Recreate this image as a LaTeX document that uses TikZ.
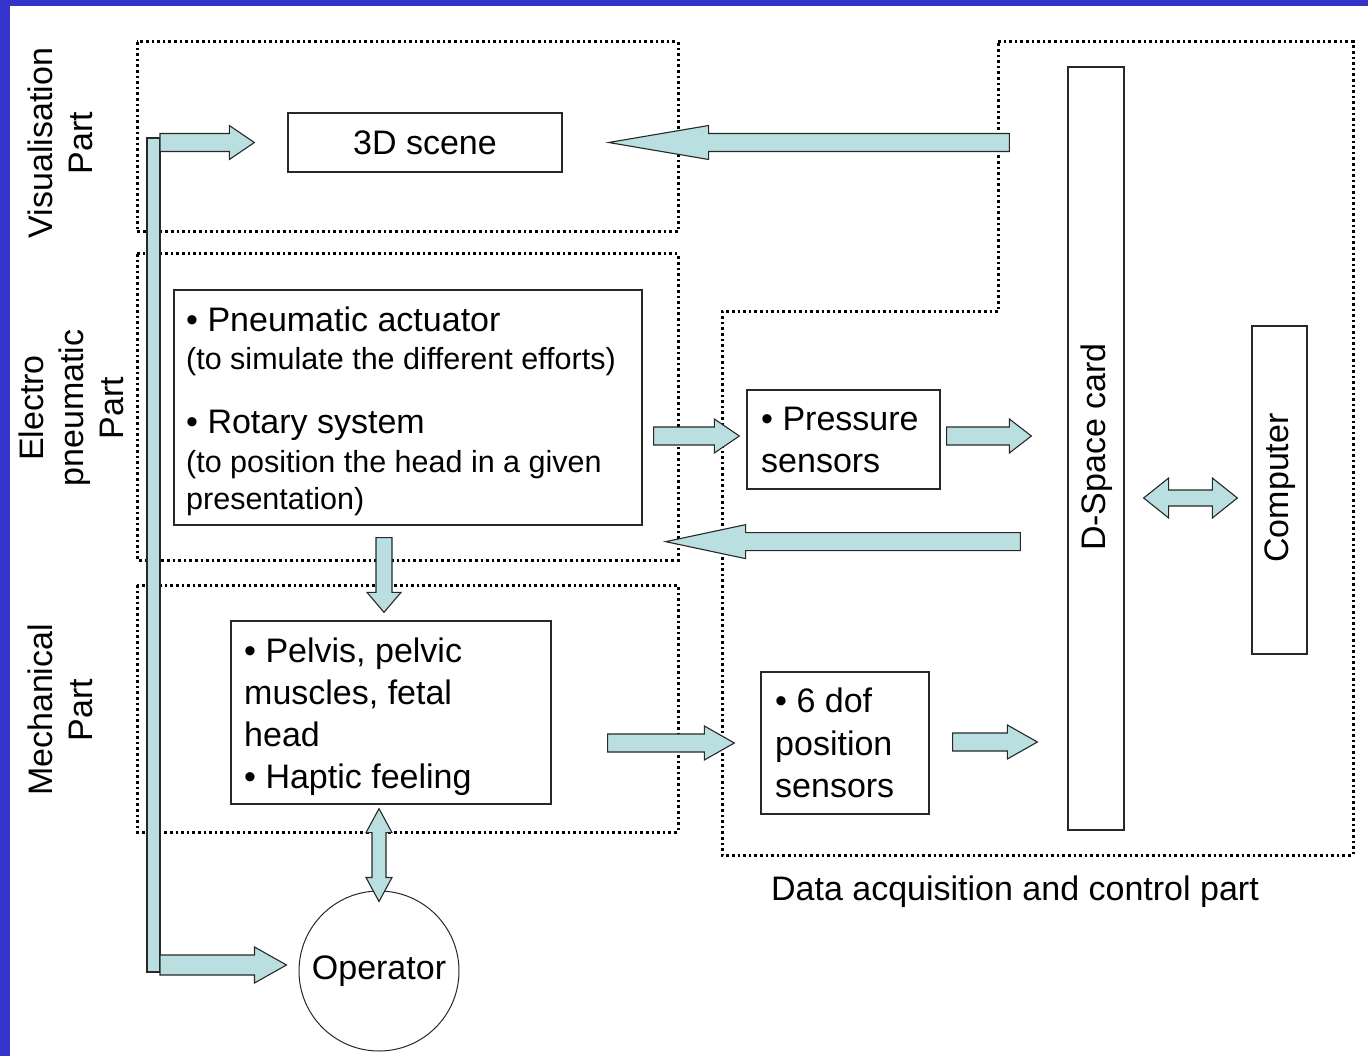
\documentclass[tikz,border=0pt]{standalone}
\usepackage{fontspec}
\setmainfont{Liberation Sans}
\usetikzlibrary{calc}
\definecolor{bordercol}{RGB}{52,52,204}
\definecolor{arrfill}{RGB}{186,223,224}
\definecolor{linecol}{RGB}{40,40,40}
\newcommand\bigf{\fontsize{34}{40}\selectfont}
\newcommand\smf{\fontsize{30.5}{36}\selectfont}
% single block arrow: #1 tail, #2 tip, #3 shaft half, #4 head half, #5 head length
\newcommand\blarrow[5]{%
  \coordinate (bahh) at ($(#2)!#5!(#1)$);
  \draw[arrowst] ($(#1)!#3!90:(#2)$) -- ($(bahh)!#3!90:(#2)$) -- ($(bahh)!#4!90:(#2)$) -- (#2)
    -- ($(bahh)!#4!-90:(#2)$) -- ($(bahh)!#3!-90:(#2)$) -- ($(#1)!#3!-90:(#2)$) -- cycle;
}
% double block arrow
\newcommand\dblarrow[5]{%
  \coordinate (bahA) at ($(#1)!#5!(#2)$);
  \coordinate (bahB) at ($(#2)!#5!(#1)$);
  \draw[arrowst] (#1) -- ($(bahA)!#4!90:(#2)$) -- ($(bahA)!#3!90:(#2)$) -- ($(bahB)!#3!90:(#2)$)
    -- ($(bahB)!#4!90:(#2)$) -- (#2) -- ($(bahB)!#4!-90:(#2)$) -- ($(bahB)!#3!-90:(#2)$)
    -- ($(bahA)!#3!-90:(#2)$) -- ($(bahA)!#4!-90:(#2)$) -- cycle;
}
\begin{document}
\begin{tikzpicture}[x=1pt,y=-1pt,
  box/.style={draw=linecol, line width=1.3pt, inner sep=0pt, font=\bigf},
  arrowst/.style={draw=linecol, line width=1.1pt, fill=arrfill, line join=miter},
  dotline/.style={draw=black, line width=3pt, dash pattern=on 2.6pt off 3pt},
  txt/.style={inner sep=0pt, anchor=base west},
  lbl/.style={rotate=90, align=center, font=\bigf, inner sep=0pt}]
\useasboundingbox (0,0) rectangle (1368,1056);
\fill[white] (0,0) rectangle (1368,1056);
\fill[bordercol] (0,0) rectangle (10,1056);
\fill[bordercol] (0,0) rectangle (1368,6);

% dotted regions
\draw[dotline] (137,42) rectangle (678,232);
\draw[dotline] (137,254) rectangle (678,560);
\draw[dotline] (137,585) rectangle (678,832);
\draw[dotline] (998,42) -- (1353,42) -- (1353,855) -- (722,855) -- (722,312) -- (998,312) -- cycle;

% side labels
\node[lbl] (lvis) at (60,143) {Visualisation\\Part};
\node[lbl] (lele) at (71,408) {Electro\\pneumatic\\Part};
\node[lbl] (lmec) at (60,710) {Mechanical\\Part};

% boxes
\node[box, minimum width=274pt, minimum height=59pt] (scene) at (425,142.5) {3D scene};
\node[box, fill=white, minimum width=56pt, minimum height=763pt] (dspace) at (1096,448.5) {};
\node[lbl] (dspacet) at (1097,447) {D-Space card};
\node[box, minimum width=55pt, minimum height=328pt] (comp) at (1279.5,490) {};
\node[lbl] (compt) at (1280,488) {Computer};
\node[box, minimum width=468pt, minimum height=235pt] (pneu) at (408,407.5) {};
\node[box, minimum width=193pt, minimum height=99pt] (press) at (843.5,439.5) {};
\node[box, minimum width=320pt, minimum height=183pt] (mech) at (391,712.5) {};
\node[box, minimum width=168pt, minimum height=142pt] (dof) at (845,743) {};
\node[box, circle, line width=1pt, minimum size=160pt] (op) at (379,971) {Operator};

% texts in boxes
\node[txt, font=\bigf] (p1) at (186,332) {• Pneumatic actuator};
\node[txt, font=\smf] (p2) at (186,370) {(to simulate the different efforts)};
\node[txt, font=\bigf] (p3) at (186,433) {• Rotary system};
\node[txt, font=\smf] (p4) at (186,472) {(to position the head in a given};
\node[txt, font=\smf] (p5) at (186,509) {presentation)};
\node[txt, font=\bigf] (s1) at (761,430) {• Pressure};
\node[txt, font=\bigf] (s2) at (761,472) {sensors};
\node[txt, font=\bigf] (m1) at (244,662) {• Pelvis, pelvic};
\node[txt, font=\bigf] (m2) at (244,704) {muscles, fetal};
\node[txt, font=\bigf] (m3) at (244,746) {head};
\node[txt, font=\bigf] (m4) at (244,788) {• Haptic feeling};
\node[txt, font=\bigf] (d1) at (775,712) {• 6 dof};
\node[txt, font=\bigf] (d2) at (775,755) {position};
\node[txt, font=\bigf] (d3) at (775,797) {sensors};
\node[inner sep=0pt, anchor=base, font=\bigf] (dacq) at (1015,900) {Data acquisition and control part};

% connector coordinates
\coordinate (barT) at (160,142.5);
\coordinate (barB) at (160,965);
\coordinate (sceneIn) at ($(scene.west)+(-33,0)$);
\coordinate (opIn) at ($(barB -| op.west)+(-12,0)$);
\coordinate (dsOut1) at ($(dspace.west |- scene.east)+(-58,0)$);
\coordinate (sceneIn2) at ($(scene.east)+(46,0)$);
\coordinate (pnOut) at ($(pneu.east |- press.west)+(11,-3.5)$);
\coordinate (prIn) at ($(press.west)+(-7,-3.5)$);
\coordinate (prOut) at ($(press.east)+(6,-3.5)$);
\coordinate (dsIn1) at ($(press.east -| dspace.west)+(-36,-3.5)$);
\coordinate (dsOut2) at ($(pneu.south -| dspace.west)+(-47,16)$);
\coordinate (pnIn) at ($(pneu.south east)+(23,16)$);
\coordinate (pnDown) at ($(pneu.south)+(-24,12)$);
\coordinate (meIn) at ($(mech.north -| pnDown)+(0,-8)$);
\coordinate (meOut) at ($(mech.east)+(56,30.5)$);
\coordinate (dofIn) at ($(dof.west)+(-26,0)$);
\coordinate (dofOut) at ($(dof.east)+(23,-1)$);
\coordinate (dsIn2) at ($(dof.east -| dspace.west)+(-30,-1)$);
\coordinate (meBot) at ($(mech.south)+(-12,4)$);
\coordinate (opTop) at ($(op.north)+(0,11)$);
\coordinate (dsR) at ($(dspace.east)+(19,49.5)$);
\coordinate (cpL) at ($(comp.west)+(-14,8)$);

% block arrows
\draw[arrowst] (147,138) rectangle (160,972);
\blarrow{barT}{sceneIn}{9pt}{17pt}{25pt}
\blarrow{barB}{opIn}{10pt}{18pt}{32pt}
\blarrow{dsOut1}{sceneIn2}{9pt}{17pt}{100pt}
\blarrow{pnOut}{prIn}{9pt}{17pt}{25pt}
\blarrow{prOut}{dsIn1}{9pt}{17pt}{22pt}
\blarrow{dsOut2}{pnIn}{9pt}{17pt}{80pt}
\blarrow{pnDown}{meIn}{8pt}{17pt}{20pt}
\blarrow{meOut}{dofIn}{9pt}{17pt}{30pt}
\blarrow{dofOut}{dsIn2}{9pt}{17pt}{30pt}
\dblarrow{meBot}{opTop}{7pt}{13pt}{24pt}
\dblarrow{dsR}{cpL}{8pt}{20pt}{25pt}
\end{tikzpicture}
\end{document}
